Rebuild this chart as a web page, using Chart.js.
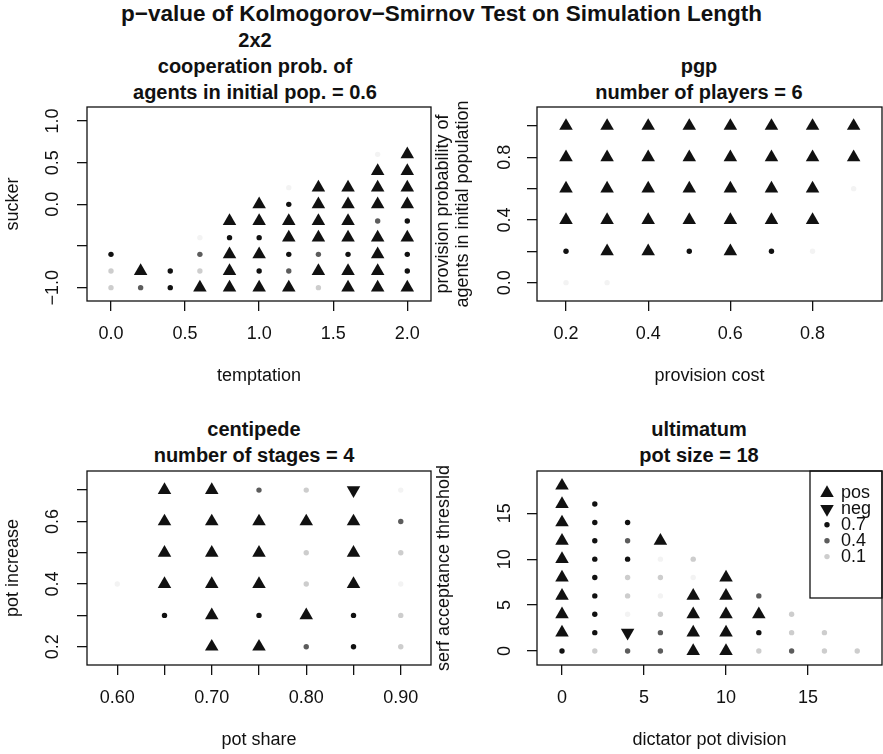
<!DOCTYPE html>
<html>
<head>
<meta charset="utf-8">
<script src="https://cdn.jsdelivr.net/npm/chart.js@4.4.1/dist/chart.umd.min.js"></script>
<style>
  body { margin: 0; background: #fff; width: 883px; height: 754px; position: relative; overflow: hidden;
         font-family: 'Liberation Sans', Arial, sans-serif; color: #111; }
  canvas { position: absolute; }
  .title { position: absolute; width: 440px; text-align: center; font-weight: bold; font-size: 20px;
           line-height: 26px; white-space: nowrap; }
  .main { left: 0; width: 883px; top: 1px; font-size: 22.5px; }
</style>
</head>
<body>
<div class="title main">p−value of Kolmogorov−Smirnov Test on Simulation Length</div>
<div class="title" style="left:35px; top:27px;">2x2<br>cooperation prob. of<br>agents in initial pop. = 0.6</div>
<div class="title" style="left:479px; top:53px;">pgp<br>number of players = 6</div>
<div class="title" style="left:34px; top:416px;">centipede<br>number of stages = 4</div>
<div class="title" style="left:479px; top:416px;">ultimatum<br>pot size = 18</div>

<canvas id="c2x2" width="441" height="300" style="left:0; top:100px;"></canvas>
<canvas id="cPgp" width="458" height="300" style="left:425px; top:100px;"></canvas>
<canvas id="cCent" width="441" height="290" style="left:0; top:464px;"></canvas>
<canvas id="cUlt" width="458" height="290" style="left:425px; top:464px;"></canvas>

<script>
// result of each point: 'pos' / 'neg' = significant shift, number = p-value level
// 2x2 game (temptation vs sucker)
const ttX = [0, 0, 0,
  0.2, 0.2,
  0.4, 0.4,
  0.6, 0.6, 0.6, 0.6,
  0.8, 0.8, 0.8, 0.8, 0.8,
  1, 1, 1, 1, 1, 1,
  1.2, 1.2, 1.2, 1.2, 1.2, 1.2, 1.2,
  1.4, 1.4, 1.4, 1.4, 1.4, 1.4, 1.4,
  1.6, 1.6, 1.6, 1.6, 1.6, 1.6, 1.6,
  1.8, 1.8, 1.8, 1.8, 1.8, 1.8, 1.8, 1.8, 1.8,
  2, 2, 2, 2, 2, 2, 2, 2, 2];
const ttY = [-1, -0.8, -0.6,
  -1, -0.8,
  -1, -0.8,
  -1, -0.8, -0.6, -0.4,
  -1, -0.8, -0.6, -0.4, -0.2,
  -1, -0.8, -0.6, -0.4, -0.2, 0,
  -1, -0.8, -0.6, -0.4, -0.2, 0, 0.2,
  -1, -0.8, -0.6, -0.4, -0.2, 0, 0.2,
  -1, -0.8, -0.6, -0.4, -0.2, 0, 0.2,
  -1, -0.8, -0.6, -0.4, -0.2, 0, 0.2, 0.4, 0.6,
  -1, -0.8, -0.6, -0.4, -0.2, 0, 0.2, 0.4, 0.6];
const ttRes = [0.1, 0.1, 0.7,
  0.4, 'pos',
  0.7, 0.7,
  'pos', 0.1, 0.4, 0.02,
  'pos', 'pos', 'pos', 0.7, 'pos',
  'pos', 0.7, 'pos', 0.7, 'pos', 'pos',
  'pos', 0.4, 0.7, 'pos', 'pos', 0.7, 0.02,
  0.1, 'pos', 0.4, 'pos', 'pos', 'pos', 'pos',
  'pos', 'pos', 0.7, 'pos', 'pos', 'pos', 'pos',
  'pos', 'pos', 'pos', 'pos', 0.4, 'pos', 'pos', 'pos', 0.02,
  'pos', 0.7, 0.7, 'pos', 0.7, 'pos', 'pos', 'pos', 'pos'];
const ttXTicks = [0, 0.5, 1, 1.5, 2];
const ttXLabels = ['0.0', '0.5', '1.0', '1.5', '2.0'];
const ttYTicks = [-1, -0.5, 0, 0.5, 1];
const ttYLabels = ['−1.0', '', '0.0', '0.5', '1.0'];

// public goods game
const pgX = [0.2, 0.2, 0.2, 0.2, 0.2, 0.2,
  0.3, 0.3, 0.3, 0.3, 0.3, 0.3,
  0.4, 0.4, 0.4, 0.4, 0.4,
  0.5, 0.5, 0.5, 0.5, 0.5,
  0.6, 0.6, 0.6, 0.6, 0.6,
  0.7, 0.7, 0.7, 0.7, 0.7,
  0.8, 0.8, 0.8, 0.8, 0.8,
  0.9, 0.9, 0.9];
const pgY = [0, 0.2, 0.4, 0.6, 0.8, 1,
  0, 0.2, 0.4, 0.6, 0.8, 1,
  0.2, 0.4, 0.6, 0.8, 1,
  0.2, 0.4, 0.6, 0.8, 1,
  0.2, 0.4, 0.6, 0.8, 1,
  0.2, 0.4, 0.6, 0.8, 1,
  0.2, 0.4, 0.6, 0.8, 1,
  0.6, 0.8, 1];
const pgRes = [0.02, 0.7, 'pos', 'pos', 'pos', 'pos',
  0.02, 'pos', 'pos', 'pos', 'pos', 'pos',
  'pos', 'pos', 'pos', 'pos', 'pos',
  0.7, 'pos', 'pos', 'pos', 'pos',
  'pos', 'pos', 'pos', 'pos', 'pos',
  0.7, 'pos', 'pos', 'pos', 'pos',
  0.02, 'pos', 'pos', 'pos', 'pos',
  0.02, 'pos', 'pos'];
const pgXTicks = [0.2, 0.4, 0.6, 0.8];
const pgXLabels = ['0.2', '0.4', '0.6', '0.8'];
const pgYTicks = [0, 0.2, 0.4, 0.6, 0.8, 1];
const pgYLabels = ['0.0', '', '0.4', '', '0.8', ''];

// centipede game
const ceX = [0.6,
  0.65, 0.65, 0.65, 0.65, 0.65,
  0.7, 0.7, 0.7, 0.7, 0.7, 0.7,
  0.75, 0.75, 0.75, 0.75, 0.75, 0.75,
  0.8, 0.8, 0.8, 0.8, 0.8, 0.8,
  0.85, 0.85, 0.85, 0.85, 0.85, 0.85,
  0.9, 0.9, 0.9, 0.9, 0.9, 0.9];
const ceY = [0.4,
  0.3, 0.4, 0.5, 0.6, 0.7,
  0.2, 0.3, 0.4, 0.5, 0.6, 0.7,
  0.2, 0.3, 0.4, 0.5, 0.6, 0.7,
  0.2, 0.3, 0.4, 0.5, 0.6, 0.7,
  0.2, 0.3, 0.4, 0.5, 0.6, 0.7,
  0.2, 0.3, 0.4, 0.5, 0.6, 0.7];
const ceRes = [0.02,
  0.7, 'pos', 'pos', 'pos', 'pos',
  'pos', 'pos', 'pos', 'pos', 'pos', 'pos',
  'pos', 0.7, 'pos', 'pos', 'pos', 0.4,
  0.4, 'pos', 0.1, 0.1, 'pos', 0.1,
  0.7, 0.7, 'pos', 'pos', 'pos', 'neg',
  0.1, 0.1, 0.02, 0.1, 0.4, 0.02];
const ceXTicks = [0.6, 0.65, 0.7, 0.75, 0.8, 0.85, 0.9];
const ceXLabels = ['0.60', '', '0.70', '', '0.80', '', '0.90'];
const ceYTicks = [0.2, 0.3, 0.4, 0.5, 0.6, 0.7];
const ceYLabels = ['0.2', '', '0.4', '', '0.6', ''];

// ultimatum game
const ulX = [0, 0, 0, 0, 0, 0, 0, 0, 0, 0,
  2, 2, 2, 2, 2, 2, 2, 2, 2,
  4, 4, 4, 4, 4, 4, 4, 4,
  6, 6, 6, 6, 6, 6, 6,
  8, 8, 8, 8, 8, 8,
  10, 10, 10, 10, 10,
  12, 12, 12, 12,
  14, 14, 14,
  16, 16,
  18];
const ulY = [0, 2, 4, 6, 8, 10, 12, 14, 16, 18,
  0, 2, 4, 6, 8, 10, 12, 14, 16,
  0, 2, 4, 6, 8, 10, 12, 14,
  0, 2, 4, 6, 8, 10, 12,
  0, 2, 4, 6, 8, 10,
  0, 2, 4, 6, 8,
  0, 2, 4, 6,
  0, 2, 4,
  0, 2,
  0];
const ulRes = [0.7, 'pos', 'pos', 'pos', 'pos', 'pos', 'pos', 'pos', 'pos', 'pos',
  0.1, 0.7, 0.7, 0.7, 0.7, 0.7, 0.7, 0.7, 0.7,
  0.4, 'neg', 0.02, 0.1, 0.1, 0.7, 0.4, 0.7,
  0.4, 0.4, 0.1, 0.02, 0.1, 0.02, 'pos',
  'pos', 'pos', 'pos', 'pos', 0.02, 0.1,
  'pos', 'pos', 'pos', 'pos', 'pos',
  0.1, 0.7, 'pos', 0.4,
  0.4, 0.1, 0.1,
  0.1, 0.1,
  0.1];
const ulXTicks = [0, 5, 10, 15];
const ulXLabels = ['0', '5', '10', '15'];
const ulYTicks = [0, 5, 10, 15];
const ulYLabels = ['0', '5', '10', '15'];

const legendLabels = ['pos', 'neg', '0.7', '0.4', '0.1'];
const legendRes = ['pos', 'neg', 0.7, 0.4, 0.1];

const ink = '#111';
const fontFamily = "'Liberation Sans', Arial, sans-serif";
const shade = { 0.7: '#111111', 0.4: '#5c5c5c', 0.1: '#cdcdcd', 0.02: '#f3f3f3' };
const triR = 7.8;
const dotR = 2.7;

Chart.defaults.font.family = fontFamily;
Chart.defaults.color = ink;

function isTri(r) { return r === 'pos' || r === 'neg'; }
function markColor(r) { return isTri(r) ? ink : shade[r]; }

// draws the box around the plot region, like R's box()
const boxPlugin = {
  id: 'rBox',
  afterDraw(chart) {
    const a = chart.chartArea, ctx = chart.ctx;
    ctx.save();
    ctx.strokeStyle = ink;
    ctx.lineWidth = 1.3;
    ctx.strokeRect(a.left, a.top, a.right - a.left, a.bottom - a.top);
    ctx.restore();
  }
};

function drawMark(ctx, r, x, y) {
  ctx.fillStyle = markColor(r);
  ctx.beginPath();
  if (isTri(r)) {
    const s = r === 'neg' ? -1 : 1;
    ctx.moveTo(x, y - s * triR);
    ctx.lineTo(x + triR * Math.sqrt(3) / 2, y + s * triR / 2);
    ctx.lineTo(x - triR * Math.sqrt(3) / 2, y + s * triR / 2);
    ctx.closePath();
  } else {
    ctx.arc(x, y, dotR, 0, Math.PI * 2);
  }
  ctx.fill();
}

const legendPlugin = {
  id: 'rLegend',
  afterDraw(chart) {
    const a = chart.chartArea, ctx = chart.ctx;
    const left = a.right - 72, bottom = a.top + 127;
    ctx.save();
    ctx.strokeStyle = ink;
    ctx.lineWidth = 1.3;
    ctx.strokeRect(left, a.top, a.right - left, bottom - a.top);
    ctx.font = '18px ' + fontFamily;
    ctx.textBaseline = 'middle';
    legendLabels.forEach((lab, i) => {
      const y = a.top + 22 + i * 15.9;
      drawMark(ctx, legendRes[i], a.right - 55, y);
      ctx.fillStyle = ink;
      ctx.fillText(lab, a.right - 41, y);
    });
    ctx.restore();
  }
};

function axisOpts(ax) {
  const vertical = ax.vertical;
  return {
    type: 'linear',
    min: ax.min,
    max: ax.max,
    bounds: 'data',
    afterBuildTicks: s => { s.ticks = ax.ticks.map(v => ({ value: v })); },
    afterFit: s => {
      if (vertical) s.width = ax.size; else s.height = ax.size;
      // no extra room for overhanging labels, the plot box is fixed
      s.paddingTop = s.paddingBottom = s.paddingLeft = s.paddingRight = 0;
    },
    grid: { drawOnChartArea: false, drawTicks: true, tickLength: 10, color: ink, lineWidth: 1.3 },
    border: { display: false },
    ticks: {
      autoSkip: false,
      padding: ax.tickPad,
      color: ink,
      font: { size: 18 },
      minRotation: vertical ? 90 : 0,
      maxRotation: vertical ? 90 : 0,
      crossAlign: vertical ? 'center' : 'near',
      callback: (v, i) => ax.labels[i]
    },
    title: {
      display: true,
      text: ax.title,
      color: ink,
      font: { size: 18, lineHeight: 1.1 },
      padding: vertical ? { top: ax.titlePad, bottom: 0 } : { top: 0, bottom: ax.titlePad }
    }
  };
}

function makePanel(id, p) {
  return new Chart(document.getElementById(id), {
    type: 'scatter',
    data: {
      datasets: [{
        data: p.x.map((x, i) => ({ x: x, y: p.y[i] })),
        pointStyle: p.res.map(r => isTri(r) ? 'triangle' : 'circle'),
        pointRadius: p.res.map(r => isTri(r) ? triR : dotR),
        pointRotation: p.res.map(r => r === 'neg' ? 180 : 0),
        pointBackgroundColor: p.res.map(markColor),
        pointBorderWidth: 0
      }]
    },
    options: {
      responsive: false,
      animation: false,
      events: [],
      layout: { padding: p.pad, autoPadding: false },
      plugins: { legend: { display: false }, tooltip: { enabled: false } },
      scales: { x: axisOpts(p.xAxis), y: axisOpts(p.yAxis) }
    },
    plugins: [boxPlugin].concat(p.extra || [])
  });
}

makePanel('c2x2', {
  x: ttX, y: ttY, res: ttRes,
  pad: { left: 0, top: 7, right: 10, bottom: 0 },
  xAxis: { min: -0.162, max: 2.16, ticks: ttXTicks, labels: ttXLabels, title: 'temptation', size: 99, tickPad: 12, titlePad: 14 },
  yAxis: { vertical: true, min: -1.16, max: 1.168, ticks: ttYTicks, labels: ttYLabels, title: 'sucker', size: 87, tickPad: 6, titlePad: 3 }
});

makePanel('cPgp', {
  x: pgX, y: pgY, res: pgRes,
  pad: { left: 0, top: 7, right: 1, bottom: 0 },
  xAxis: { min: 0.1294, max: 0.969, ticks: pgXTicks, labels: pgXLabels, title: 'provision cost', size: 99, tickPad: 12, titlePad: 14 },
  yAxis: { vertical: true, min: -0.117, max: 1.121, ticks: pgYTicks, labels: pgYLabels,
           title: ['provision probability of', 'agents in initial population'], size: 112, tickPad: 9.5, titlePad: 8 }
});

makePanel('cCent', {
  x: ceX, y: ceY, res: ceRes,
  pad: { left: 0, top: 7, right: 10, bottom: 0 },
  xAxis: { min: 0.568, max: 0.932, ticks: ceXTicks, labels: ceXLabels, title: 'pot share', size: 89, tickPad: 12, titlePad: 4 },
  yAxis: { vertical: true, min: 0.1416, max: 0.761, ticks: ceYTicks, labels: ceYLabels, title: 'pot increase', size: 87, tickPad: 11.5, titlePad: 3 }
});

makePanel('cUlt', {
  x: ulX, y: ulY, res: ulRes,
  pad: { left: 0, top: 7, right: 1, bottom: 0 },
  xAxis: { min: -1.524, max: 19.51, ticks: ulXTicks, labels: ulXLabels, title: 'dictator pot division', size: 89, tickPad: 12, titlePad: 4 },
  yAxis: { vertical: true, min: -1.525, max: 19.6, ticks: ulYTicks, labels: ulYLabels, title: 'serf acceptance threshold', size: 112, tickPad: 12, titlePad: 9 },
  extra: [legendPlugin]
});
</script>
</body>
</html>
